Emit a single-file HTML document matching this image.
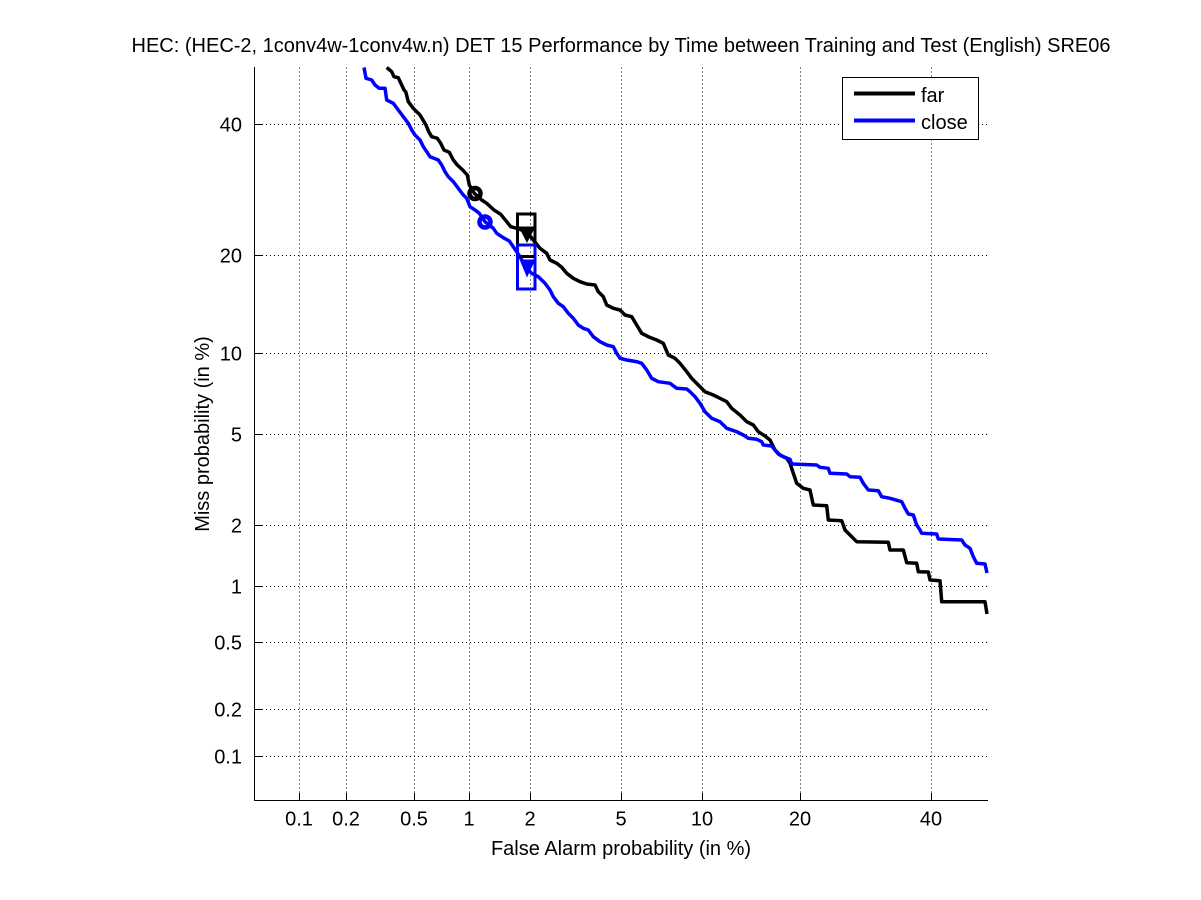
<!DOCTYPE html>
<html>
<head>
<meta charset="utf-8">
<style>
  html, body { margin:0; padding:0; background:#fff; }
  svg { display:block; }
  text { font-family: "Liberation Sans", Arial, sans-serif; fill:#000; }
</style>
</head>
<body>
<svg width="1201" height="900" viewBox="0 0 1201 900" xmlns="http://www.w3.org/2000/svg">
  <rect x="0" y="0" width="1201" height="900" fill="#fff"/>

  <!-- Title -->
  <text x="621" y="52" font-size="20" text-anchor="middle" textLength="979" lengthAdjust="spacingAndGlyphs">HEC: (HEC-2, 1conv4w-1conv4w.n) DET 15 Performance by Time between Training and Test (English) SRE06</text>

  <!-- Grid (dotted) -->
  <g stroke="#000" stroke-width="1" stroke-dasharray="1 3" fill="none">
    <line x1="299.5" y1="67.5" x2="299.5" y2="801"/>
    <line x1="346.5" y1="67.5" x2="346.5" y2="801"/>
    <line x1="414.5" y1="67.5" x2="414.5" y2="801"/>
    <line x1="469.5" y1="67.5" x2="469.5" y2="801"/>
    <line x1="530.5" y1="67.5" x2="530.5" y2="801"/>
    <line x1="621.5" y1="67.5" x2="621.5" y2="801"/>
    <line x1="702.5" y1="67.5" x2="702.5" y2="801"/>
    <line x1="800.5" y1="67.5" x2="800.5" y2="801"/>
    <line x1="931.5" y1="67.5" x2="931.5" y2="801"/>
    <line x1="254" y1="756.5" x2="988" y2="756.5"/>
    <line x1="254" y1="709.5" x2="988" y2="709.5"/>
    <line x1="254" y1="642.5" x2="988" y2="642.5"/>
    <line x1="254" y1="586.5" x2="988" y2="586.5"/>
    <line x1="254" y1="525.5" x2="988" y2="525.5"/>
    <line x1="254" y1="434.5" x2="988" y2="434.5"/>
    <line x1="254" y1="353.5" x2="988" y2="353.5"/>
    <line x1="254" y1="255.5" x2="988" y2="255.5"/>
    <line x1="254" y1="124.5" x2="988" y2="124.5"/>
  </g>

  <!-- Axes lines and ticks -->
  <g stroke="#000" stroke-width="1" fill="none">
    <line x1="254.5" y1="67" x2="254.5" y2="801"/>
    <line x1="254" y1="800.5" x2="988" y2="800.5"/>
    <line x1="299.5" y1="801" x2="299.5" y2="793"/>
    <line x1="346.5" y1="801" x2="346.5" y2="793"/>
    <line x1="414.5" y1="801" x2="414.5" y2="793"/>
    <line x1="469.5" y1="801" x2="469.5" y2="793"/>
    <line x1="530.5" y1="801" x2="530.5" y2="793"/>
    <line x1="621.5" y1="801" x2="621.5" y2="793"/>
    <line x1="702.5" y1="801" x2="702.5" y2="793"/>
    <line x1="800.5" y1="801" x2="800.5" y2="793"/>
    <line x1="931.5" y1="801" x2="931.5" y2="793"/>
    <line x1="254" y1="756.5" x2="262" y2="756.5"/>
    <line x1="254" y1="709.5" x2="262" y2="709.5"/>
    <line x1="254" y1="642.5" x2="262" y2="642.5"/>
    <line x1="254" y1="586.5" x2="262" y2="586.5"/>
    <line x1="254" y1="525.5" x2="262" y2="525.5"/>
    <line x1="254" y1="434.5" x2="262" y2="434.5"/>
    <line x1="254" y1="353.5" x2="262" y2="353.5"/>
    <line x1="254" y1="255.5" x2="262" y2="255.5"/>
    <line x1="254" y1="124.5" x2="262" y2="124.5"/>
  </g>

  <!-- X tick labels -->
  <g font-size="20" text-anchor="middle">
    <text x="299" y="825.5">0.1</text>
    <text x="346" y="825.5">0.2</text>
    <text x="414" y="825.5">0.5</text>
    <text x="469" y="825.5">1</text>
    <text x="530" y="825.5">2</text>
    <text x="621" y="825.5">5</text>
    <text x="702" y="825.5">10</text>
    <text x="800" y="825.5">20</text>
    <text x="931" y="825.5">40</text>
  </g>

  <!-- Y tick labels -->
  <g font-size="20" text-anchor="end">
    <text x="242" y="763.5">0.1</text>
    <text x="242" y="716.5">0.2</text>
    <text x="242" y="649.5">0.5</text>
    <text x="242" y="593.5">1</text>
    <text x="242" y="532.5">2</text>
    <text x="242" y="441.5">5</text>
    <text x="242" y="360.5">10</text>
    <text x="242" y="262.5">20</text>
    <text x="242" y="131.5">40</text>
  </g>

  <!-- Axis labels -->
  <text x="621" y="855" font-size="20" text-anchor="middle">False Alarm probability (in %)</text>
  <text x="0" y="0" font-size="20" text-anchor="middle" transform="translate(209,434) rotate(-90)">Miss probability (in %)</text>

  <!-- far curve (black) -->
  <polyline fill="none" stroke="#000" stroke-width="3.5" stroke-linejoin="round" points="
386.7,67.5 391.7,71.7 394,76.7 398.3,77.7 401.7,85 404,90 405.7,91.7 408.3,101.7 413.3,108.3 420,115 424,121.7 426,125 428.7,131.7 431.7,136.7 437.3,138.3 440.7,143.3 444,150 449.3,152.3 453.3,160 457.3,165 462.7,170 467.3,175 469.3,185 474.3,193.3 481.7,200 486.7,203.3 494,210 500.7,214.3 506.7,221.7 510.7,226.7 516.7,228.3 526.7,231.7 533.3,240 540,248.3 546.7,253.3 550,260 556.7,263.3 561.7,267.3 566.7,273.3 573.3,278.3 580,281.7 586.7,284 595,285 598.3,291.7 603.3,296.7 606.7,305 613.3,308.3 620,310 625,315 631.7,316.7 636.7,325 641.7,333.3 648.3,336.7 656.7,340 663.3,343.3 668.3,355 675,358.3 680,363.3 686.7,371.7 691.7,378.3 698.3,385 705,391.7 713.3,395 720,398.3 726.7,401.7 731.7,408.3 740,415 746.7,421.7 753.3,425 758.3,431.7 765,436 770,440 775,450 780,455 786.7,458.3 790,463.3 793.3,473.3 796.7,483.3 803.3,488.3 810,490 813.3,505 826.7,505.7 828.3,520 841.7,520.7 845,530 850,535 856.7,541.7 888.3,542.3 890,550 903.3,550 906.7,562.7 916.7,563.3 918.3,571.7 928.3,572 930,580 940,580.7 941.7,601.7 985,601.7 987,614"/>

  <!-- far markers -->
  <circle cx="475" cy="193.5" r="5.5" fill="none" stroke="#000" stroke-width="4.5"/>
  <rect x="517.5" y="214" width="17.5" height="42.5" fill="none" stroke="#000" stroke-width="3"/>
  <polygon points="518.5,226.5 535.5,226.5 527,243" fill="#000"/>

  <!-- close curve (blue) -->
  <polyline fill="none" stroke="#0000ff" stroke-width="3.5" stroke-linejoin="round" points="
364,67.5 366,78.3 371.7,80 375,85 379.3,88.3 385,88.3 386.7,100 393.3,103.3 398.3,110 403.3,116.7 408.3,123.3 411.7,130 415,135 420,140 423.3,146.7 426.7,151.7 430,156.7 438.3,160 441.7,165 445,171.7 448.3,176.7 453.3,181.7 458.3,188.3 463.3,195 466.7,198.3 470,206.7 475,210 479.3,213.3 485,221.7 493.3,228.3 496.7,233.3 503.3,237.7 509.3,241 513.3,246.7 520,256.7 526.7,268.3 531.7,273.3 538.3,276.7 545,283.3 550,290 553.3,296.7 558.3,303.3 563.3,306.7 568.3,313.3 573.3,318.3 578.3,325 583.3,328.3 588.3,330 593.3,336.7 600,341.7 606.7,345 613.3,346.7 616.7,353.3 620,358.3 626.7,360 636.7,361.7 641.7,363.3 646.7,370 651.7,378.3 658.3,381.7 670,383.3 676.7,388.3 686.7,389 690,391.7 695,396.7 700,403.3 705,411.7 711.7,418.3 720,421.7 726.7,428.3 736.7,431.7 743.3,435 748.3,438.3 756.7,439.3 761.7,441.7 763.3,445 771.7,446 775,450 778.3,454 783.3,456.7 790,459.3 791.7,464 816.7,465 820,467.3 828.3,468.3 830,473.3 846.7,474 850,476.7 860,477.3 863.3,483.3 868.3,490 878.3,490.7 881.7,496.7 890,498.3 901.7,501.7 905,508.3 908.3,514 913.3,515 916.7,525 920,530 921.7,533.3 936.7,534 938.3,539 961.7,540 965,545 970,548.3 973.3,556.7 976.7,563.3 985,564 987,573"/>

  <!-- close markers -->
  <circle cx="485" cy="222" r="5.5" fill="none" stroke="#0000ff" stroke-width="4.5"/>
  <rect x="517.5" y="245" width="17.5" height="44" fill="none" stroke="#0000ff" stroke-width="3"/>
  <line x1="519" y1="256.5" x2="534" y2="256.5" stroke="#000" stroke-width="3"/>
  <polygon points="519.5,259.5 535.5,259.5 527,277.5" fill="#0000ff"/>

  <!-- Legend -->
  <rect x="842.5" y="77.5" width="136" height="62" fill="#fff" stroke="#000" stroke-width="1"/>
  <line x1="854" y1="93.5" x2="915" y2="93.5" stroke="#000" stroke-width="4"/>
  <line x1="854" y1="120.5" x2="915" y2="120.5" stroke="#0000ff" stroke-width="4"/>
  <text x="921" y="102" font-size="20">far</text>
  <text x="921" y="129" font-size="20">close</text>
</svg>
</body>
</html>
